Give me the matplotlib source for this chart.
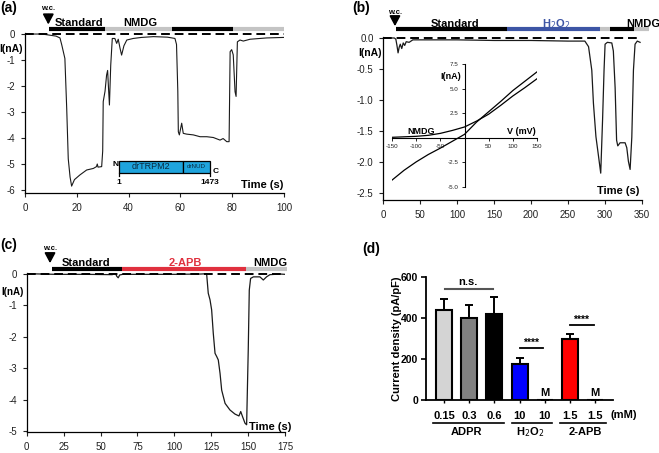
import numpy as np
import matplotlib
matplotlib.use("Agg")
from matplotlib import pyplot as plt
from matplotlib.patches import Rectangle

plt.rcParams['font.family'] = ['Liberation Sans', 'DejaVu Sans']
plt.rcParams['axes.unicode_minus'] = False

# ---- data ----
# (a) drTRPM2 trace
a_t = [0, 6, 8, 10, 12, 13.5, 14.2, 15.4, 16.1, 16.7, 17.4, 18.0, 19.1, 21.2, 23.8, 26.4, 27.6, 27.9, 28.2, 29.6,
       30.0, 30.2, 30.9, 31.5, 31.9, 32.2, 32.6, 33.1, 33.7, 34.7, 35.4, 36.0, 36.7, 37.3, 38.2, 39.3, 41.8, 45, 49.6, 55,
       57.9, 58.5, 59.0, 59.2, 59.6, 60.5, 61.1, 62.4, 65, 67.6, 70.2, 72.7, 75.3, 76.5, 77.9, 78.8, 79.2, 79.8, 80.4, 81.1,
       81.5, 82.0, 83.0, 84.3, 86.9, 93.3, 100]
a_i = [0, 0, -0.02, -0.05, -0.08, -0.15, -0.42, -0.94, -2.85, -4.8, -5.5, -5.85, -5.6, -5.42, -5.23, -5.17, -5.1, -5.0, -5.12, -5.1,
       -4.5, -2.6, -2.2, -1.58, -1.4, -2.0, -2.73, -1.2, -0.17, -0.17, -0.36, -0.2, -0.55, -0.81, -0.45, -0.23, -0.17, -0.13, -0.1, -0.12,
       -0.17, -0.4, -2.2, -3.76, -3.88, -3.43, -3.82, -3.85, -3.88, -3.95, -3.95, -3.98, -4.08, -4.02, -4.14, -4.14, -0.68, -0.6, -0.8, -2.22,
       -2.4, -0.3, -0.23, -0.27, -0.2, -0.15, -0.13]
a_edges = [9.3, 30.9, 56.6, 80.4, 100]

# (b) H2O2 trace
b_t = [0, 15, 17, 18.5, 20, 21.5, 23, 25, 27, 29, 31, 35, 40, 50, 100, 150, 200, 250, 273, 278,
       282.4, 284.6, 288, 291, 294.5, 297, 299, 300.4, 303.5, 309.5, 311.6, 314, 316, 317.6, 320.7, 327.5, 329.8, 332, 334.3, 336.6,
       338.8, 341, 344, 347.8]
b_i = [0, 0, -0.02, -0.12, -0.24, -0.15, -0.1, -0.17, -0.08, -0.12, -0.06, -0.07, -0.03, -0.03, -0.03, -0.04, -0.04, -0.05, -0.05, -0.14,
       -0.52, -1.05, -1.59, -1.86, -2.18, -1.32, -0.52, -0.1, -0.07, -0.08, -0.21, -0.8, -1.65, -1.74, -1.69, -1.69, -1.77, -1.99, -2.12, -1.6,
       -0.52, -0.1, -0.05, -0.07]
b_edges = [16.8, 167, 293.6, 307, 339.7, 360]

# (b) inset I-V
iv_v = [-150, -125, -100, -75, -50, -25, 0, 25, 50, 75, 100, 125, 150]
iv_std = [-4.3, -3.3, -2.45, -1.7, -1.05, -0.35, 0.35, 1.6, 2.65, 3.7, 4.8, 5.75, 6.7]
iv_nmdg = [0.05, 0.1, 0.15, 0.25, 0.45, 0.75, 1.1, 1.7, 2.4, 3.3, 4.25, 5.1, 6.0]

# (c) 2-APB trace
c_t = [0, 20, 40, 58, 60, 61, 62, 63, 65, 80, 100, 118, 121.9, 123, 124.2, 125.3, 126.4, 127.6, 128.7, 129.8,
       131, 132.1, 134.4, 137.7, 141.1, 143.8, 145, 146.3, 147.9, 149, 150.1, 150.8, 151.7, 153.6, 158, 160.3, 162.5, 164.8, 171.6, 175]
c_i = [0, -0.02, -0.02, -0.03, 0.03, -0.08, -0.13, -0.04, -0.02, -0.02, -0.02, -0.01, 0.0, -0.62, -0.83, -1.15, -1.89, -2.53, -2.63, -2.74,
       -3.17, -3.7, -4.12, -4.33, -4.46, -4.52, -4.38, -4.55, -4.75, -4.8, -2.42, -0.52, -0.15, -0.1, -0.1, -0.2, -0.1, -0.03, -0.01, -0.02]
c_edges = [16.9, 64.4, 148.6, 176.6]

# (d) current density
d_labels = ['0.15', '0.3', '0.6', '10', '10', '1.5', '1.5']
d_vals = [438, 400, 420, 174, 0, 299, 0]
d_err = [52, 61, 81, 29, 0, 24, 0]
d_colors = ['#d4d4d4', '#808080', '#000000', '#0000ff', '#ffffff', '#ff0000', '#ffffff']

GRAY = '#c4c4c4'
BLUE = '#3d55a5'
RED = '#e0303e'

W, H = 659, 453
fig = plt.figure(figsize=(W / 100, H / 100), dpi=100)


def px_axes(x0, y0, x1, y1):
    return fig.add_axes([x0 / W, 1 - y1 / H, (x1 - x0) / W, (y1 - y0) / H])


def trace_style(ax):
    for s in ['top', 'right']:
        ax.spines[s].set_visible(False)
    for s in ['left', 'bottom']:
        ax.spines[s].set_linewidth(0.9)
    ax.tick_params(direction='out', length=3, width=0.8, labelsize=7, colors='#222222', pad=4)
    ax.patch.set_alpha(0)


def protocol(ax, edges, colors, y):
    for i in range(len(colors)):
        ax.plot([edges[i], edges[i + 1]], [y, y], color=colors[i], lw=3.0,
                solid_capstyle='butt', clip_on=False)


def wc_arrow(ax, x, y_tip, y_tail, y_text):
    ax.annotate('', xy=(x, y_tip), xytext=(x, y_tail), annotation_clip=False,
                arrowprops=dict(arrowstyle='-|>,head_width=0.32,head_length=0.6', color='k', lw=1.3))
    ax.text(x, y_text, 'w.c.', ha='center', va='center', fontsize=5.5, fontweight='bold', clip_on=False)


def fig_text(x, y, s, **kw):
    fig.text(x / W, 1 - y / H, s, **kw)


# ---------------- (a) ----------------
ax = px_axes(25, 33, 284, 193)
trace_style(ax)
ax.plot(a_t, a_i, color='#1a1a1a', lw=0.8)
ax.plot([0, 100], [0, 0], color='k', lw=1.4, ls=(0, (4.5, 2.5)))
ax.set_xlim(0, 100)
ax.set_ylim(-6.115, 0.04)
ax.set_xticks(range(0, 101, 20))
ax.set_yticks(range(0, -7, -1))
protocol(ax, a_edges, ['black', GRAY, 'black', GRAY], 0.19)
ax.text(20.8, 0.42, 'Standard', ha='center', va='center', fontsize=8, fontweight='bold', clip_on=False)
ax.text(44.4, 0.42, 'NMDG', ha='center', va='center', fontsize=8, fontweight='bold', clip_on=False)
wc_arrow(ax, 9.0, 0.26, 0.85, 1.0)
ax.text(91.4, -5.8, 'Time (s)', ha='center', va='center', fontsize=8, fontweight='bold')
# domain diagram
ax.add_patch(Rectangle((36.3, -5.33), 60.9 - 36.3, 0.45, facecolor='#1fa4dd', edgecolor='k', lw=0.9))
ax.add_patch(Rectangle((60.9, -5.33), 71.4 - 60.9, 0.45, facecolor='#1fa4dd', edgecolor='k', lw=0.9))
ax.text(48.6, -5.105, 'drTRPM2', ha='center', va='center', fontsize=6.5, color='#0a2a40')
ax.text(66.15, -5.105, 'drNUD', ha='center', va='center', fontsize=4.5, color='#0a2a40')
ax.plot([36.3, 36.3], [-5.33, -5.48], color='k', lw=0.9)
ax.plot([71.4, 71.4], [-5.33, -5.48], color='k', lw=0.9)
ax.text(34.8, -5.0, 'N', ha='center', va='center', fontsize=6, fontweight='bold')
ax.text(73.6, -5.3, 'C', ha='center', va='center', fontsize=6, fontweight='bold')
ax.text(36.3, -5.72, '1', ha='center', va='center', fontsize=6, fontweight='bold')
ax.text(71.4, -5.72, '1473', ha='center', va='center', fontsize=6, fontweight='bold')
fig_text(23, 49, 'I(nA)', ha='right', va='center', fontsize=7.5, fontweight='bold')
fig_text(0, 8, '(a)', ha='left', va='center', fontsize=10, fontweight='bold')

# ---------------- (b) ----------------
ax = px_axes(383.3, 37, 641.7, 200)
trace_style(ax)
ax.plot(b_t, b_i, color='#1a1a1a', lw=0.9)
ax.plot([0, 345], [0, 0], color='k', lw=1.4, ls=(0, (4.5, 2.5)))
ax.set_xlim(0, 350)
ax.set_ylim(-2.613, 0.016)
ax.set_xticks(range(0, 351, 50))
ax.set_yticks([0, -0.5, -1.0, -1.5, -2.0, -2.5])
ax.set_yticklabels(['0.0', '-0.5', '-1.0', '-1.5', '-2.0', '-2.5'])
protocol(ax, b_edges, ['black', BLUE, GRAY, 'black', GRAY], 0.15)
ax.text(97, 0.226, 'Standard', ha='center', va='center', fontsize=8, fontweight='bold', clip_on=False)
ax.text(233.6, 0.226, 'H$_2$O$_2$', ha='center', va='center', fontsize=8, fontweight='bold',
        color=BLUE, clip_on=False)
ax.text(352, 0.226, 'NMDG', ha='center', va='center', fontsize=8, fontweight='bold', clip_on=False)
wc_arrow(ax, 15.8, 0.145, 0.36, 0.41)
ax.text(318, -2.46, 'Time (s)', ha='center', va='center', fontsize=8, fontweight='bold')
fig_text(382, 53, 'I(nA)', ha='right', va='center', fontsize=7.5, fontweight='bold')
fig_text(352, 8, '(b)', ha='left', va='center', fontsize=10, fontweight='bold')

# inset I-V
ax = px_axes(392, 64, 537, 187)
ax.patch.set_alpha(0)
ax.plot(iv_v, iv_std, color='k', lw=0.9)
ax.plot(iv_v, iv_nmdg, color='k', lw=0.9)
ax.set_xlim(-150, 150)
ax.set_ylim(-5, 7.5)
ax.spines['left'].set_position(('data', 0))
ax.spines['bottom'].set_position(('data', 0))
for s in ['top', 'right']:
    ax.spines[s].set_visible(False)
for s in ['left', 'bottom']:
    ax.spines[s].set_linewidth(0.8)
ax.set_xticks([-150, -100, -50, 50, 100, 150])
ax.set_yticks([-5.0, -2.5, 2.5, 5.0, 7.5])
ax.set_yticklabels(['-5.0', '-2.5', '2.5', '5.0', '7.5'])
ax.tick_params(direction='out', length=2.5, width=0.7, labelsize=4.5, pad=2, colors='#222222')
ax.text(-8, 6.2, 'I(nA)', ha='right', va='center', fontsize=6.5, fontweight='bold')
ax.text(-90, 0.6, 'NMDG', ha='center', va='center', fontsize=6.5, fontweight='bold')
ax.text(118, 0.6, 'V (mV)', ha='center', va='center', fontsize=6.5, fontweight='bold')

# ---------------- (c) ----------------
ax = px_axes(26.7, 272.7, 285, 432)
trace_style(ax)
ax.plot(c_t, c_i, color='#1a1a1a', lw=0.9)
ax.plot([0, 175], [0, 0], color='k', lw=1.4, ls=(0, (4.5, 2.5)))
ax.set_xlim(0, 175)
ax.set_ylim(-5.03, 0.032)
ax.set_xticks(range(0, 176, 25))
ax.set_yticks(range(0, -6, -1))
protocol(ax, c_edges, ['black', RED, GRAY], 0.14)
ax.text(40.2, 0.35, 'Standard', ha='center', va='center', fontsize=8, fontweight='bold', clip_on=False)
ax.text(107.3, 0.35, '2-APB', ha='center', va='center', fontsize=8, fontweight='bold', color=RED, clip_on=False)
ax.text(165.3, 0.35, 'NMDG', ha='center', va='center', fontsize=8, fontweight='bold', clip_on=False)
wc_arrow(ax, 15.8, 0.245, 0.63, 0.81)
ax.text(164.8, -4.88, 'Time (s)', ha='center', va='center', fontsize=8, fontweight='bold')
fig_text(1, 291.7, 'I(nA)', ha='left', va='center', fontsize=7, fontweight='bold')
fig_text(0, 245, '(c)', ha='left', va='center', fontsize=10, fontweight='bold')

# ---------------- (d) ----------------
ax = px_axes(425.7, 276.7, 612.7, 400)
ax.patch.set_alpha(0)
x = np.arange(len(d_vals))
ax.bar(x, d_vals, width=0.64, color=d_colors, edgecolor='k', linewidth=1.5, zorder=2)
ax.errorbar(x, d_vals, yerr=[np.zeros(len(d_err)), d_err], fmt='none',
            ecolor='k', elinewidth=1.4, capsize=3.2, capthick=1.4, zorder=1)
ax.set_xlim(-0.73, 6.7)
ax.set_ylim(0, 600)
for s in ['top', 'right']:
    ax.spines[s].set_visible(False)
for s in ['left', 'bottom']:
    ax.spines[s].set_linewidth(1.3)
ax.set_yticks([0, 200, 400, 600])
ax.set_xticks(x)
ax.set_xticklabels(d_labels)
ax.tick_params(axis='y', direction='out', length=3.5, width=1.2, labelsize=7.5, pad=2)
ax.tick_params(axis='x', direction='out', length=2, width=1.0, labelsize=8, pad=6)
for lab in ax.get_xticklabels() + ax.get_yticklabels():
    lab.set_fontweight('bold')
ax.set_ylabel('Current density (pA/pF)', fontsize=8, fontweight='bold')
ax.yaxis.set_label_coords(-0.128, 0.5)
# significance marks
ax.plot([0.03, 1.95], [540, 540], color='#555555', lw=1.5)
ax.text(0.95, 572, 'n.s.', ha='center', va='center', fontsize=8, fontweight='bold')
ax.plot([3.02, 3.94], [251, 251], color='k', lw=1.3)
ax.text(3.45, 278, '****', ha='center', va='center', fontsize=7.5, fontweight='bold')
ax.plot([5.02, 5.96], [365, 365], color='k', lw=1.3)
ax.text(5.45, 392, '****', ha='center', va='center', fontsize=7.5, fontweight='bold')
ax.text(4, 33, 'M', ha='center', va='center', fontsize=8, fontweight='bold')
ax.text(6, 33, 'M', ha='center', va='center', fontsize=8, fontweight='bold')
# group labels under the axis
tr = ax.get_xaxis_transform()
ax.text(7.15, -0.12, '(mM)', transform=tr, ha='center', va='center', fontsize=8, fontweight='bold', clip_on=False)
for x0, x1, xc, lab in [(-0.44, 2.38, 0.9, 'ADPR'), (2.69, 4.29, 3.42, 'H$_2$O$_2$'), (4.61, 6.44, 5.6, '2-APB')]:
    ax.plot([x0, x1], [-0.184, -0.184], transform=tr, color='k', lw=1.2, clip_on=False)
    ax.text(xc, -0.26, lab, transform=tr, ha='center', va='center', fontsize=8, fontweight='bold', clip_on=False)
fig_text(362, 249, '(d)', ha='left', va='center', fontsize=10, fontweight='bold')

fig.savefig('out.png', dpi=100)
